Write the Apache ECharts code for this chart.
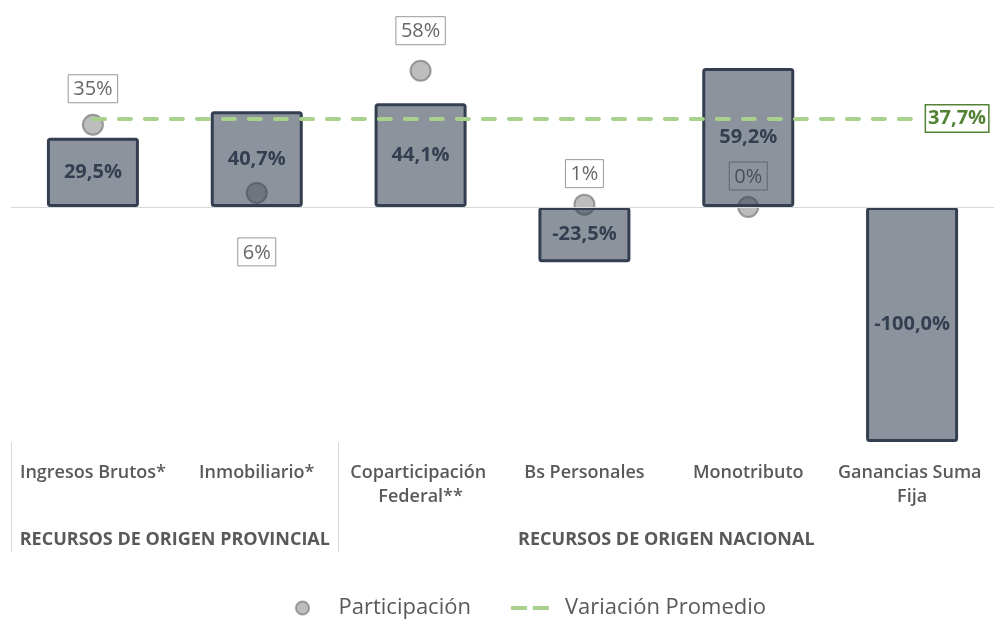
<!DOCTYPE html>
<html>
<head>
<meta charset="utf-8">
<script src="https://cdn.jsdelivr.net/npm/echarts@6/dist/echarts.min.js"></script>
<style>
html,body{margin:0;padding:0;background:#fff;}
#chart{width:995px;height:624px;}
</style>
</head>
<body>
<div id="chart"></div>
<script>
var categories = ['Ingresos Brutos*', 'Inmobiliario*', 'Coparticipación Federal**', 'Bs Personales', 'Monotributo', 'Ganancias Suma Fija'];
var variacion = [29.5, 40.7, 44.1, -23.5, 59.2, -100.0];
var participacion = [35, 6, 58, 1, 0, null];
var variacionPromedio = 37.7;
var groupNames = ['RECURSOS DE ORIGEN PROVINCIAL', 'RECURSOS DE ORIGEN NACIONAL'];
var groupStart = [0, 2];
var groupEnd = [2, 6];

function fmtComma(v) { return v.toFixed(1).replace('.', ',') + '%'; }

var FONT = '"Open Sans", "Noto Sans", sans-serif';

var groupCenters = groupStart.map(function (s, i) { return (s + groupEnd[i]) / 2; });
var groupTicks = groupStart.slice();

var scatterData = participacion.map(function (v, i) {
  var item = { value: v };
  if (i === 1) {
    item.label = { position: 'bottom', distance: 34 };
  } else if (i === 2) {
    item.label = { distance: 15 };
  } else if (i === 3 || i === 4) {
    item.label = { distance: 6 };
  }
  return item;
});

var dashIcon = 'path://M0,0 L16,0 L16,4 L0,4 Z M22,0 L38,0 L38,4 L22,4 Z';

var chart = echarts.init(document.getElementById('chart'));
chart.setOption({
  animation: false,
  textStyle: { fontFamily: FONT },
  grid: { left: 11, right: 0, top: 19, bottom: 182, containLabel: false },
  legend: {
    left: 290,
    bottom: 0,
    itemGap: 40,
    itemWidth: 38,
    itemHeight: 13,
    textStyle: { fontSize: 22, color: '#595959', fontFamily: FONT, padding: [0, 0, 0, 12] },
    data: [
      { name: 'Participación', icon: 'circle' },
      { name: 'Variación Promedio', icon: dashIcon,
        itemStyle: { color: '#A9D18E', borderWidth: 0 },
        textStyle: { padding: [0, 0, 0, 11] } }
    ]
  },
  xAxis: [
    {
      type: 'category',
      data: categories,
      position: 'bottom',
      axisLine: { show: false, onZero: false },
      axisTick: { show: false },
      axisLabel: {
        interval: 0,
        margin: 19,
        fontSize: 18,
        fontWeight: 600,
        color: '#595959',
        lineHeight: 24,
        width: 160,
        overflow: 'break',
        fontFamily: FONT
      }
    },
    {
      type: 'value',
      min: 0,
      max: categories.length,
      position: 'bottom',
      splitLine: { show: false },
      axisLine: { show: false, onZero: false },
      axisTick: {
        show: true,
        customValues: groupTicks,
        length: 110,
        lineStyle: { color: '#D9D9D9', width: 1 }
      },
      axisLabel: {
        customValues: groupCenters,
        margin: 89,
        fontSize: 18,
        fontWeight: 'bold',
        color: '#595959',
        fontFamily: FONT,
        formatter: function (v) {
          var idx = groupCenters.indexOf(v);
          return idx >= 0 ? groupNames[idx] : '';
        }
      }
    }
  ],
  yAxis: {
    type: 'value',
    min: -100,
    max: 80,
    show: false,
    splitLine: { show: false }
  },
  series: [
    {
      name: 'Participación',
      type: 'scatter',
      z: 2,
      xAxisIndex: 0,
      data: scatterData,
      symbol: 'circle',
      symbolSize: 20,
      itemStyle: { color: '#ADADAD', borderColor: '#858585', borderWidth: 2 },
      label: {
        show: true,
        position: 'top',
        distance: 11,
        formatter: function (p) { return p.value + '%'; },
        color: '#404040',
        fontSize: 20,
        fontFamily: FONT,
        borderColor: '#7F7F7F',
        borderWidth: 1,
        padding: [5, 5, 3, 5]
      }
    },
    {
      name: 'Variación',
      type: 'bar',
      z: 3,
      xAxisIndex: 0,
      data: variacion,
      barWidth: 92,
      itemStyle: {
        color: 'rgba(51,63,80,0.56)',
        borderColor: '#333F50',
        borderWidth: 3,
        borderRadius: 2
      },
      label: {
        show: true,
        position: 'inside',
        formatter: function (p) { return fmtComma(p.value); },
        color: '#333F50',
        fontSize: 20,
        fontWeight: 'bold',
        fontFamily: FONT
      },
      markLine: {
        silent: true,
        symbol: ['none', 'none'],
        label: { show: false },
        lineStyle: { color: '#D9D9D9', width: 1, type: 'solid' },
        data: [{ yAxis: 0 }]
      }
    },
    {
      name: 'Variación Promedio',
      type: 'line',
      z: 4,
      xAxisIndex: 0,
      data: [],
      symbol: 'none',
      showSymbol: false,
      itemStyle: { color: '#A9D18E' },
      lineStyle: { color: '#A9D18E', width: 4, type: [12, 14], cap: 'round' },
      markLine: {
        silent: true,
        symbol: ['none', 'none'],
        lineStyle: { color: '#A9D18E', width: 4, type: [12, 14], cap: 'round' },
        label: {
          show: true,
          position: 'end',
          distance: 14,
          formatter: function () { return fmtComma(variacionPromedio); },
          color: '#548235',
          fontSize: 20,
          fontWeight: 'bold',
          fontFamily: FONT,
          backgroundColor: '#fff',
          borderColor: '#548235',
          borderWidth: 1.5,
          padding: [4, 2, 2, 2]
        },
        data: [[
          { coord: [0, variacionPromedio] },
          { coord: [categories.length - 1, variacionPromedio] }
        ]]
      }
    }
  ]
});
</script>
</body>
</html>
